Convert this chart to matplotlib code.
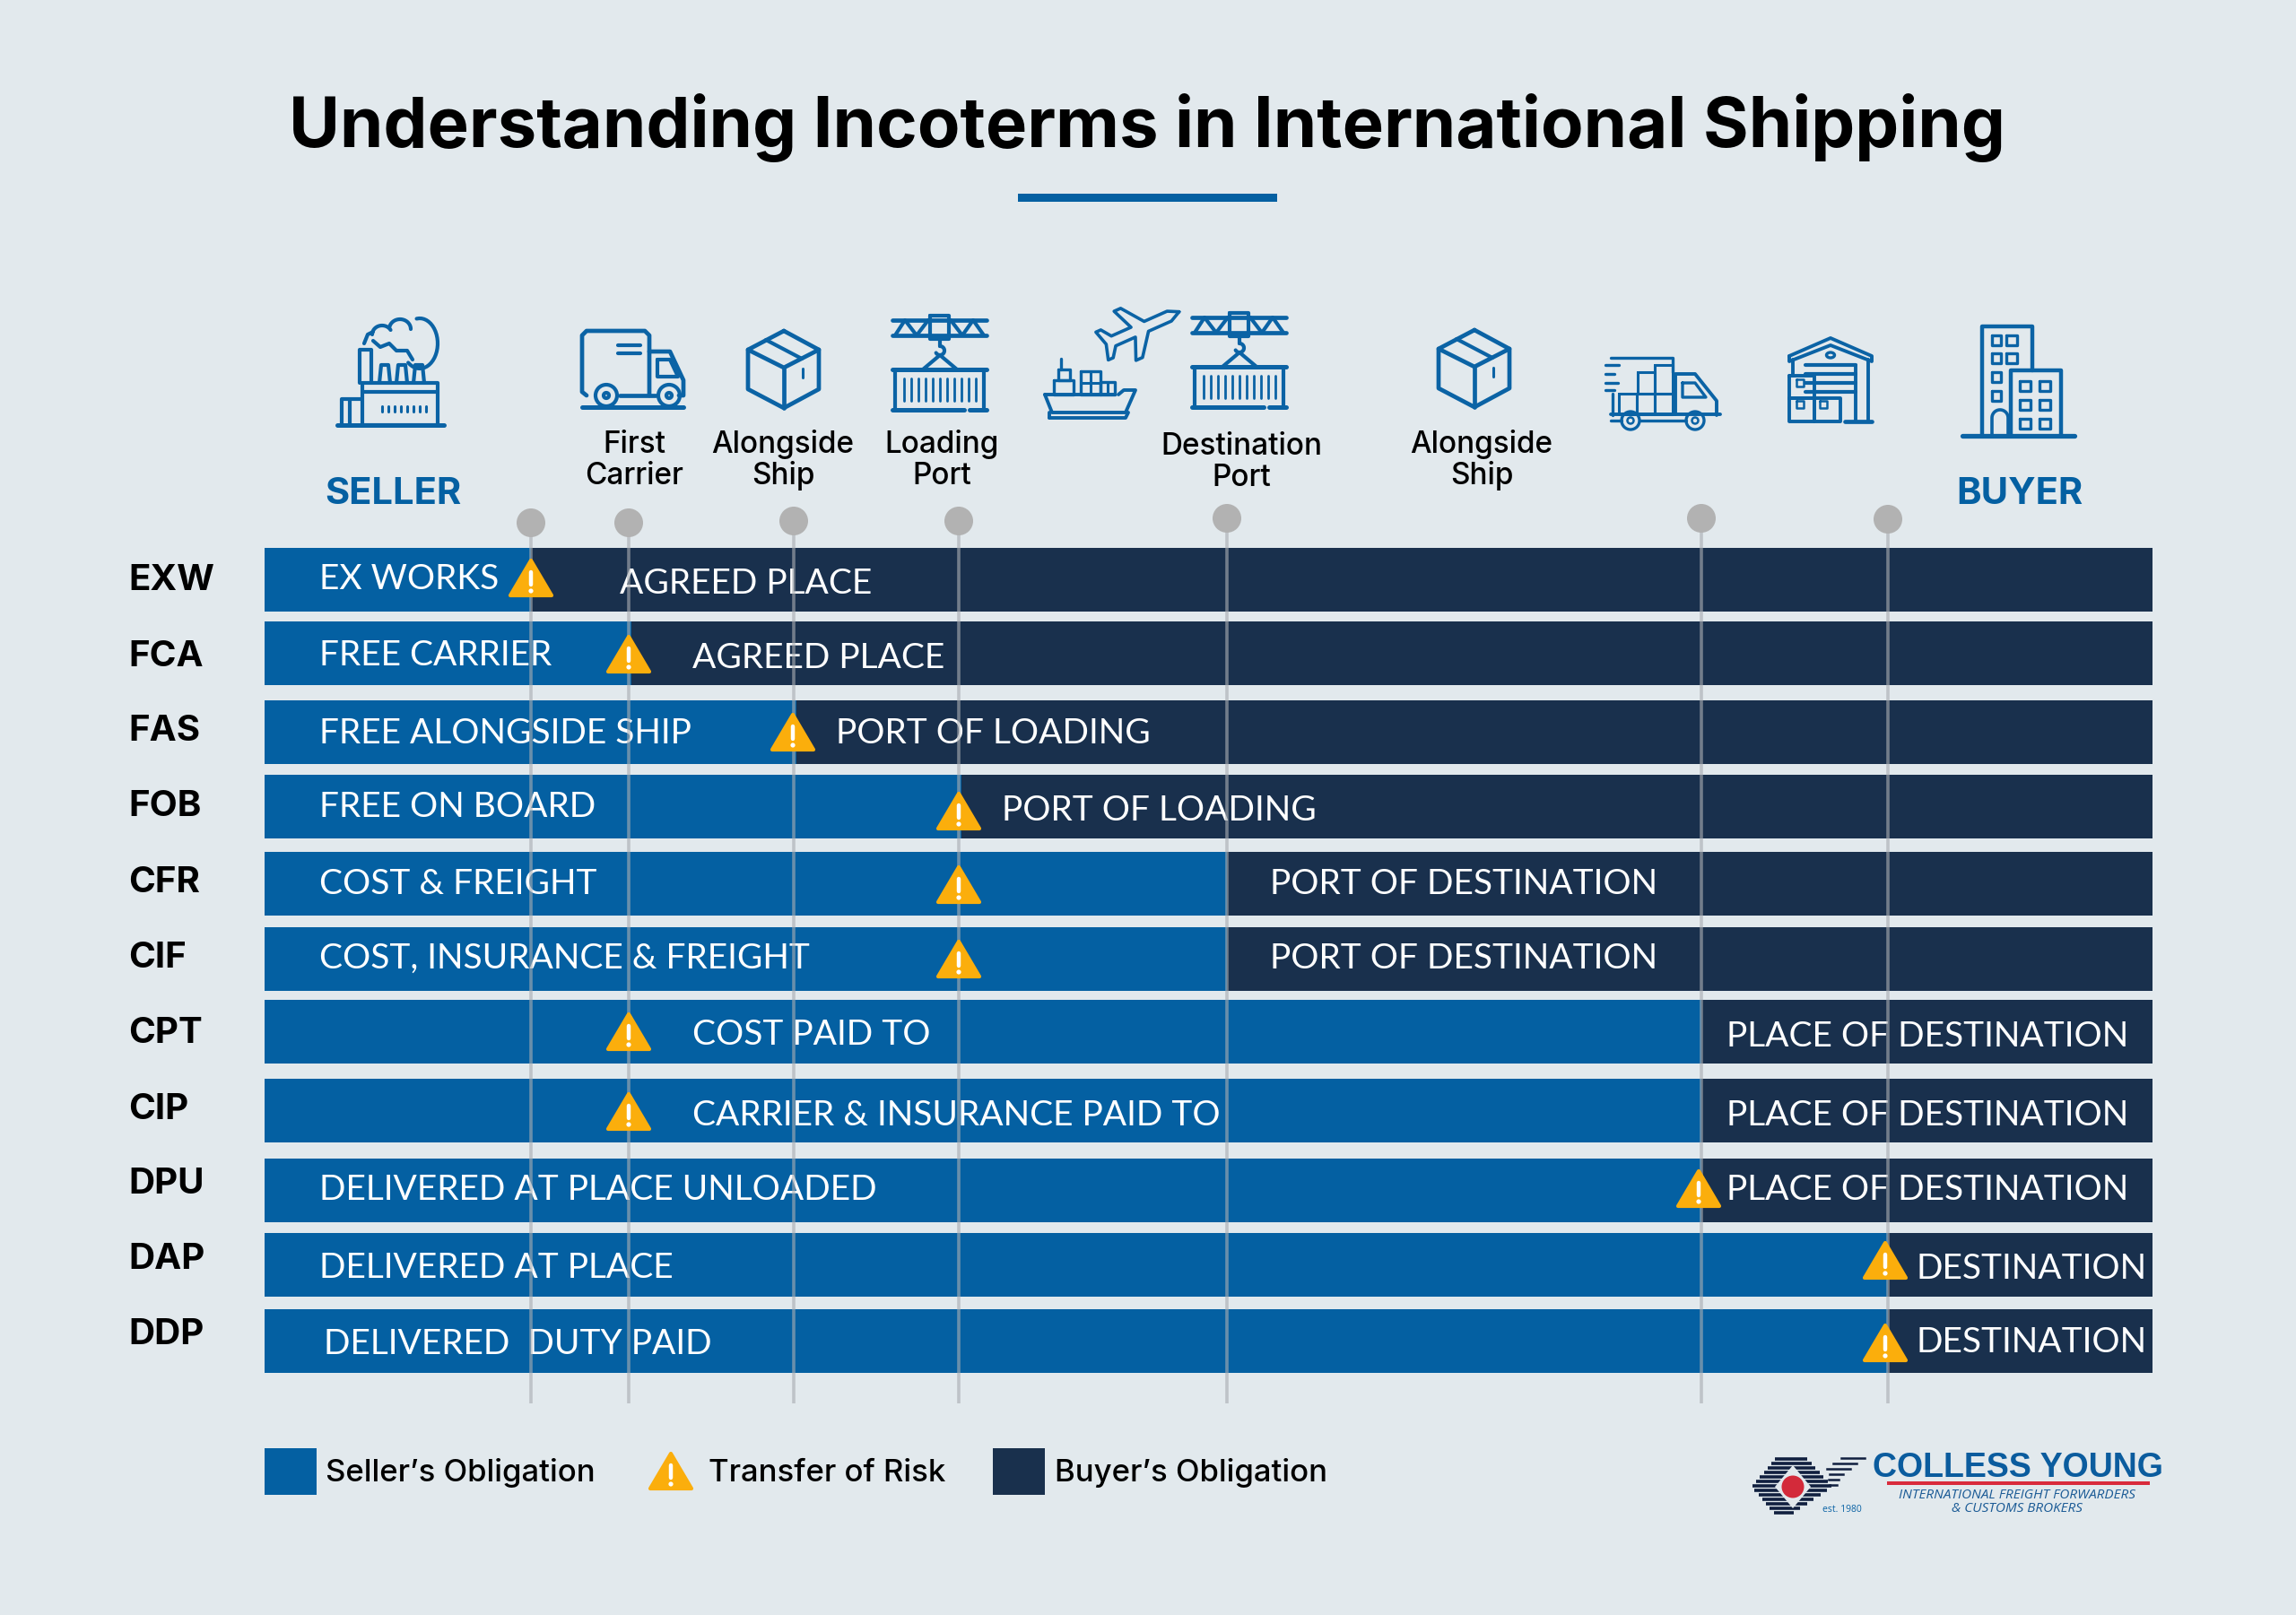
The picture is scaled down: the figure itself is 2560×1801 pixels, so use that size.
import numpy as np
import matplotlib
matplotlib.use("Agg")
import matplotlib.pyplot as plt
from matplotlib.patches import Polygon, Circle, Rectangle, Ellipse

# ---------- data ----------
terms = ["EXW", "FCA", "FAS", "FOB", "CFR", "CIF", "CPT", "CIP", "DPU", "DAP", "DDP"]
seller_labels = ["EX WORKS", "FREE CARRIER", "FREE ALONGSIDE SHIP", "FREE ON BOARD", "COST & FREIGHT",
                 "COST, INSURANCE & FREIGHT", "COST PAID TO", "CARRIER & INSURANCE PAID TO",
                 "DELIVERED AT PLACE UNLOADED", "DELIVERED AT PLACE", "DELIVERED  DUTY PAID"]
buyer_labels = ["AGREED PLACE", "AGREED PLACE", "PORT OF LOADING", "PORT OF LOADING", "PORT OF DESTINATION",
                "PORT OF DESTINATION", "PLACE OF DESTINATION", "PLACE OF DESTINATION",
                "PLACE OF DESTINATION", "DESTINATION", "DESTINATION"]
split_at = [592, 704, 888, 1072, 1368, 1368, 1897, 1897, 1897, 2105, 2105]
risk_at = [592, 701, 884, 1069, 1069, 1069, 701, 701, 1894, 2102, 2102]
milestones = [592, 701, 885, 1069, 1368, 1897, 2105]
stage_labels = [("First\nCarrier", 707), ("Alongside\nShip", 873), ("Loading\nPort", 1050),
                ("Destination\nPort", 1384), ("Alongside\nShip", 1652)]
legend_labels = ["Seller\u2019s Obligation", "Transfer of Risk", "Buyer\u2019s Obligation"]

# ---------- layout ----------
bar_top = [611, 693, 781, 864, 950, 1034, 1115, 1203, 1292, 1375, 1460]
bar_h = 71
bar_left, bar_right = 295, 2400
term_y = [643, 728, 811, 895, 980, 1064, 1148, 1233, 1316, 1400, 1484]
seller_y = [643, 728, 815, 897, 983, 1066, 1151, 1241, 1324, 1411, 1496]
seller_x = [356, 356, 356, 356, 356, 356, 772, 772, 356, 356, 361]
buyer_y = [648, 731, 815, 901, 983, 1066, 1153, 1241, 1324, 1412, 1494]
buyer_x = [691, 772, 932, 1117, 1416, 1416, 1925, 1925, 1925, 2137, 2137]
risk_top = [622, 707, 794, 882, 964, 1047, 1128, 1217, 1303, 1383, 1475]
dot_y = [583, 583, 581, 581, 578, 578, 579]

BLUE = "#0460A2"; NAVY = "#19304D"; AMBER = "#FBAE0C"; BG = "#E2E9ED"; ICON = "#0B63A5"
BODY = "Poppins" if False else "Lato"
plt.rcParams["font.family"] = ["Lato", "DejaVu Sans"]

fig = plt.figure(figsize=(25.6, 18.01), dpi=100, facecolor=BG)
ax = fig.add_axes([0, 0, 1, 1])
ax.set_xlim(0, 2560); ax.set_ylim(1801, 0); ax.axis("off")


def capt(x, y, s, size, **kw):
    kw.setdefault("color", "white")
    return ax.text(x, y + size / 2, s, fontsize=size, va="baseline", **kw)


# title
capt(1279, 136, "Understanding Incoterms in International Shipping", 56, color="black",
     family="Inter", weight="bold", ha="center", zorder=5)
ax.add_patch(Rectangle((1135, 216), 289, 9, color=BLUE, lw=0))

# bars
centers = [t + bar_h / 2 for t in bar_top]
ax.barh(centers, [s - bar_left for s in split_at], height=bar_h, left=bar_left, color=BLUE, lw=0, zorder=2)
ax.barh(centers, [bar_right - s for s in split_at], height=bar_h, left=split_at, color=NAVY, lw=0, zorder=2)

for i, t in enumerate(terms):
    capt(143, term_y[i], t, 29, color="black", family="Inter", weight="bold", zorder=3)
    capt(seller_x[i], seller_y[i], seller_labels[i], 28, zorder=3)
    capt(buyer_x[i], buyer_y[i], buyer_labels[i], 28, zorder=3)

# milestones
for x, y in zip(milestones, dot_y):
    ax.plot([x, x], [y, 1565], color="#A9ADB2", alpha=0.62, lw=2.6, zorder=4, solid_capstyle="butt")
    ax.add_patch(Circle((x, y), 16, color="#B2B2B2", lw=0, zorder=4))


def hazard(cx, top, w=46, h=42):
    ax.add_patch(Polygon([(cx, top + 3), (cx + w / 2, top + h), (cx - w / 2, top + h)], closed=True,
                         fc=AMBER, ec=AMBER, lw=3, joinstyle="round", zorder=6))
    ax.plot([cx, cx], [top + 16, top + 30], color="white", lw=3.2, solid_capstyle="round", zorder=7)
    ax.add_patch(Circle((cx, top + 37), 2.6, color="white", lw=0, zorder=7))


for x, t in zip(risk_at, risk_top):
    hazard(x, t)

# stage labels
for s, x in stage_labels:
    y0 = 497 if s.startswith("Dest") else 495
    a, b = s.split("\n")
    for k, part in enumerate((a, b)):
        ax.text(x, y0 + 35 * k + 10, part, fontsize=24, color="black", family="Inter", ha="center",
                va="baseline", weight="medium")
capt(438, 547, "SELLER", 30, color=BLUE, family="Inter", weight="bold", ha="center")
capt(2252, 547, "BUYER", 30, color=BLUE, family="Inter", weight="bold", ha="center")


# ---------- icons (drawn relative to an origin) ----------
def L(o, pts, closed=False, lw=3.0, color=ICON):
    pts = list(pts)
    if closed:
        pts.append(pts[0])
    ax.plot([o[0] + p[0] for p in pts], [o[1] + p[1] for p in pts], color=color, lw=lw,
            solid_joinstyle="round", solid_capstyle="round", zorder=3)


def R(o, x0, y0, x1, y1, **kw):
    L(o, [(x0, y0), (x1, y0), (x1, y1), (x0, y1)], closed=True, **kw)


def C(o, cx, cy, r, lw=3.0):
    ax.add_patch(Circle((o[0] + cx, o[1] + cy), r, fc="none", ec=ICON, lw=lw, zorder=3))


def arc(cx, cy, rx, ry, a0, a1):
    t = np.radians(np.linspace(a0, a1, 30))
    return list(zip(cx + rx * np.cos(t), cy + ry * np.sin(t)))


def factory(o):
    L(o, [(0, 119), (119, 119)], lw=3.6)
    R(o, 28, 72, 112, 119)
    L(o, [(28, 82), (112, 82)])
    L(o, [(5, 119), (5, 90), (28, 90)])
    L(o, [(14, 90), (14, 119)])
    L(o, [(25, 72), (25, 35), (38, 35), (38, 72)])
    for x in (47, 66, 85):
        L(o, [(x, 72), (x + 2, 52), (x + 10, 52), (x + 12, 72)])
    for x in range(50, 100, 7):
        L(o, [(x, 98), (x, 104)], lw=2.2)
    L(o, arc(92, 28, 20, 28, -100, 130))
    L(o, arc(70, 12, 12, 11, 190, 360))
    L(o, arc(50, 18, 11, 10, 180, 330))
    L(o, [(30, 28), (34, 18), (40, 15)])
    L(o, [(40, 25), (48, 32), (58, 28), (66, 36), (78, 36), (84, 46)])


def truck(o):
    L(o, [(5, 72), (0, 68), (0, 5), (5, 0), (70, 0), (75, 5), (75, 72)], lw=3.4)
    L(o, [(75, 23), (98, 23), (113, 55), (113, 72), (108, 72)], lw=3.4)
    L(o, [(84, 32), (98, 32), (107, 51), (84, 51)], closed=True)
    L(o, [(42, 72), (82, 72)], lw=3.4)
    L(o, [(40, 16), (65, 16)]); L(o, [(40, 25), (65, 25)])
    C(o, 27, 72, 12); C(o, 97, 72, 12); C(o, 27, 72, 3); C(o, 97, 72, 3)
    L(o, [(0, 85), (113, 85)], lw=3.6)


def box(o):
    L(o, [(40, 0), (79, 21), (79, 65), (40, 86), (0, 65), (0, 21)], closed=True, lw=3.4)
    L(o, [(0, 21), (40, 41), (79, 21)], lw=3.4)
    L(o, [(40, 41), (40, 86)], lw=3.4)
    L(o, [(20, 10), (60, 31)]); L(o, [(61, 42), (61, 52)], lw=2.2)


def crane(o):
    L(o, [(0, 5), (105, 5)], lw=3.4); L(o, [(0, 22), (105, 22)], lw=3.4)
    L(o, [(3, 22), (14, 5), (27, 22), (40, 5)]); L(o, [(65, 5), (78, 22), (90, 5), (102, 22)])
    R(o, 42, 0, 63, 26)
    L(o, [(53, 26), (53, 34)]); L(o, arc(53, 39, 5, 5, -90, 150))
    L(o, [(34, 60), (53, 44), (72, 60)])
    L(o, [(0, 60), (105, 60)], lw=3.6)
    L(o, [(3, 60), (3, 104)]); L(o, [(102, 60), (102, 104)])
    for x in range(13, 96, 8):
        L(o, [(x, 70), (x, 95)], lw=2.0)
    L(o, [(0, 105), (80, 105)], lw=3.6); L(o, [(86, 105), (105, 105)], lw=3.6)


def ship(o):
    L(o, [(0, 40), (8, 60), (90, 60), (101, 35), (88, 35), (82, 40)], lw=2.8)
    L(o, [(0, 40), (78, 40)], lw=2.8)
    L(o, [(5, 66), (90, 66), (93, 60)], lw=2.8); L(o, [(5, 60), (5, 66)], lw=2.8)
    R(o, 10, 24, 32, 40, lw=2.4); R(o, 15, 12, 28, 24, lw=2.4); L(o, [(18, 0), (18, 12)], lw=2.4)
    R(o, 40, 14, 62, 40, lw=2.4); R(o, 62, 26, 78, 40, lw=2.4); L(o, [(51, 14), (51, 40)], lw=2.2)
    L(o, [(40, 27), (62, 27)], lw=2.2); L(o, [(70, 26), (70, 40)], lw=2.2)


def plane(o):
    pts = np.array([(50, 0), (38, -6), (10, -6), (-8, -30), (-16, -30), (-6, -6), (-30, -6), (-38, -17), (-44, -17),
                    (-39, 0), (-44, 17), (-38, 17), (-30, 6), (-6, 6), (-16, 30), (-8, 30), (10, 6), (38, 6)], float)
    a = np.radians(-24)
    rot = np.array([[np.cos(a), -np.sin(a)], [np.sin(a), np.cos(a)]])
    L(o, [tuple(p) for p in pts @ rot.T], closed=True, lw=2.6)


def delivery(o):
    for y, x1 in ((10, 15), (20, 10), (30, 14), (38, 10)):
        L(o, [(0, y), (x1, y)], lw=2.4)
    L(o, [(6, 2), (75, 2), (75, 18)], lw=2.4)
    L(o, [(8, 42), (8, 66)], lw=2.4)
    R(o, 36, 18, 55, 42, lw=2.2); R(o, 55, 10, 75, 42, lw=2.2)
    R(o, 15, 42, 35, 65, lw=2.2); R(o, 35, 42, 55, 65, lw=2.2); R(o, 55, 42, 75, 65, lw=2.2)
    L(o, [(78, 65), (78, 20), (100, 20), (124, 50), (124, 66)], lw=2.8)
    L(o, [(86, 30), (100, 30), (112, 46), (86, 46)], closed=True, lw=2.4)
    L(o, [(6, 65), (128, 65)], lw=2.8); L(o, [(6, 72), (18, 72)], lw=2.4); L(o, [(38, 72), (90, 72)], lw=2.4)
    C(o, 28, 72, 10, lw=2.4); C(o, 100, 72, 10, lw=2.4); C(o, 28, 72, 3.5, lw=1.8); C(o, 100, 72, 3.5, lw=1.8)


def warehouse(o):
    L(o, [(0, 20), (46, 0), (92, 20), (92, 26), (46, 8), (0, 26)], closed=True, lw=2.8)
    L(o, [(4, 24), (4, 42)], lw=2.8); L(o, [(88, 24), (88, 93)], lw=2.8)
    Y = (28, 32)
    ax.add_patch(Ellipse((o[0] + 46, o[1] + 19), 9, 6, fc="none", ec=ICON, lw=2.4, zorder=3))
    for y in (30, 40, 50, 60):
        L(o, [(18, y), (74, y)], lw=3.0)
    L(o, [(74, 30), (74, 93)], lw=2.8); L(o, [(62, 93), (92, 93)], lw=3.4)
    R(o, 0, 42, 28, 67, lw=2.8); R(o, 0, 67, 28, 93, lw=2.8); R(o, 28, 67, 57, 93, lw=2.8)
    for x in (8, 34):
        R(o, x, 46 if x == 8 else 70, x + 8, 54 if x == 8 else 78, lw=1.8)
    R(o, 8, 70, 16, 78, lw=1.8)


def building(o):
    L(o, [(0, 123), (125, 123)], lw=3.8)
    L(o, [(22, 123), (22, 1), (78, 1), (78, 50)], lw=3.2)
    L(o, [(54, 123), (54, 50), (110, 50), (110, 123)], lw=3.2)
    for y in (11, 31, 52, 73):
        R(o, 33, y, 43, y + 11, lw=2.4)
        if y < 40:
            R(o, 49, y, 61, y + 11, lw=2.4)
    L(o, [(33, 123)] + arc(42, 103, 9, 9, 180, 360) + [(51, 123)], lw=2.6)
    for y in (62, 83, 104):
        R(o, 64, y, 76, y + 11, lw=2.4); R(o, 86, y, 98, y + 11, lw=2.4)


factory((376, 355)); truck((649, 369)); box((834, 369)); crane((995, 352))
ship((1165, 400)); plane((1269, 368)); crane((1329, 349)); box((1604, 368))
delivery((1790, 397)); warehouse((1995, 377)); building((2188, 363))

# ---------- legend ----------
ax.add_patch(Rectangle((295, 1615), 58, 52, color=BLUE, lw=0))
ax.add_patch(Rectangle((1107, 1615), 58, 52, color=NAVY, lw=0))
hazard(748, 1618)
for x, s in zip((363, 790, 1176), legend_labels):
    ax.text(x, 1652, s, fontsize=25, color="black", family="Inter", va="baseline", weight="medium")

# ---------- logo ----------
lx, ly = 1953, 1658
for dy in np.arange(-31, 32, 5.0):
    x0 = lx + abs(dy) * 0.85
    x1 = lx + 62 - abs(dy) * 0.0 + (31 - abs(dy)) * 0.9 if dy < 0 else lx + 90 - (dy) * 1.5
    ax.plot([x0, x1], [ly + dy, ly + dy], color="#101F3F", lw=2.6, solid_capstyle="butt", zorder=3)
ax.add_patch(Polygon([(lx + 26, ly), (lx + 46, ly - 24), (lx + 66, ly), (lx + 46, ly + 24)], fc=BG, ec="none", zorder=4))
ax.add_patch(Circle((lx + 46, ly), 12.5, color="#D32A3A", lw=0, zorder=5))
for k, (a, b) in enumerate([(2079, 2053), (2070, 2044), (2063, 2037), (2055, 2040), (2050, 2039), (2048, 2040)]):
    ax.plot([b, a], [1626 + k * 6, 1626 + k * 6], color="#101F3F", lw=1.8, zorder=3)
ax.text(2032, 1686, "est. 1980", fontsize=7.5, color=ICON, family="Open Sans", va="baseline")
ax.text(2250, 1647, "COLLESS YOUNG", fontsize=27, color="#0B5C9E", family="Liberation Sans", weight="bold",
        ha="center", va="baseline")
ax.add_patch(Rectangle((2104, 1652), 293, 4, color="#D92B3C", lw=0))
ax.text(2249, 1671, "INTERNATIONAL FREIGHT FORWARDERS", fontsize=11, color="#1A5A95", family="Open Sans",
        style="italic", ha="center", va="baseline")
ax.text(2249, 1686, "& CUSTOMS BROKERS", fontsize=11, color="#1A5A95", family="Open Sans", style="italic",
        ha="center", va="baseline")

fig.savefig("out.png", dpi=100, facecolor=BG)
